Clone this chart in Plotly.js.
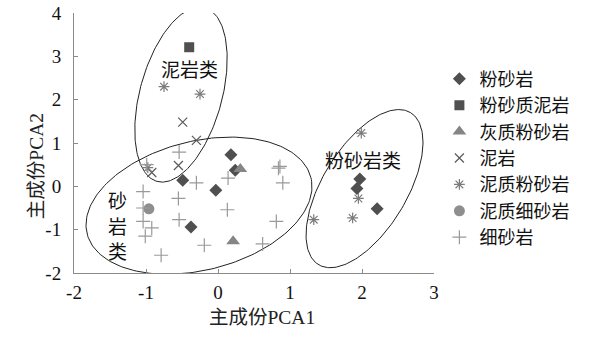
<!DOCTYPE html>
<html>
<head>
<meta charset="utf-8">
<script src="https://cdn.plot.ly/plotly-3.0.1.min.js"></script>
<style>html,body{margin:0;padding:0;background:#fff;}#chart{width:594px;height:338px;}</style>
</head>
<body>
<div id="chart"></div>
<script>
// ---- data ----
const seriesNames = ["粉砂岩", "粉砂质泥岩", "灰质粉砂岩", "泥岩", "泥质粉砂岩", "泥质细砂岩", "细砂岩"];

const siltstoneX = [0.18, 0.24, -0.49, -0.03, -0.375, 1.97, 1.93, 2.21];
const siltstoneY = [0.73, 0.37, 0.14, -0.09, -0.94, 0.17, -0.05, -0.52];

const siltyMudstoneX = [-0.40];
const siltyMudstoneY = [3.21];

const calcSiltstoneX = [0.31, 0.21];
const calcSiltstoneY = [0.40, -1.27];

const mudstoneX = [-0.49, -0.30, -0.55, -0.92];
const mudstoneY = [1.48, 1.06, 0.48, 0.32];

const argSiltstoneX = [-0.75, -0.25, 1.99, 1.95, 1.87, 1.33, -0.975];
const argSiltstoneY = [2.30, 2.13, 1.23, -0.28, -0.73, -0.77, 0.43];

const argFineSandX = [-0.96];
const argFineSandY = [-0.52];

const fineSandX = [-0.54, -0.99, -1.04, -0.30, -0.55, 0.14, -1.04, 0.13, -0.54, -1.04, -0.92, -1.01, -0.19, -0.79, 0.62, 0.81, 0.84, 0.86, 0.90];
const fineSandY = [0.79, 0.50, -0.12, 0.08, -0.28, 0.19, -0.50, -0.54, -0.77, -0.81, -0.96, -1.15, -1.36, -1.59, -1.33, -0.81, 0.42, 0.46, 0.08];

const xTicks = [-2, -1, 0, 1, 2, 3];
const xTickText = ["-2", "-1", "0", "1", "2", "3"];
const yTicks = [-2, -1, 0, 1, 2, 3, 4];
const yTickText = ["-2", "-1", "0", "1", "2", "3", "4"];

// group labels (the vertical one is written one character per line)
const groupLabels = ["泥岩类", "砂", "岩", "类", "粉砂岩类"];
const groupLabelX = [-0.40, -1.40, -1.40, -1.40, 2.01];
const groupLabelY = [2.72, -0.31, -0.91, -1.47, 0.62];

// group ellipses: centre and two conjugate half-axis vectors (data units)
const ellipseCX = [-0.514, -0.264, 2.035];
const ellipseCY = [2.118, -0.446, -0.053];
const ellipseUX = [0.332, 1.554, 0.640];
const ellipseUY = [2.004, 0.649, 1.753];
const ellipseVX = [-0.549, -0.218, -0.500];
const ellipseVY = [0.252, 1.443, 0.506];

// ---- traces ----
const styles = [
  {symbol: "diamond", color: "#4f4f4f", size: 10, lw: 0},
  {symbol: "square", color: "#505050", size: 10, lw: 0},
  {symbol: "triangle-up", color: "#858585", size: 12, lw: 0},
  {symbol: "x-thin-open", color: "#5a5a5a", size: 9, lw: 1.2},
  {symbol: "asterisk-open", color: "#7c7c7c", size: 9, lw: 1.2},
  {symbol: "circle", color: "#8e8e8e", size: 11, lw: 0},
  {symbol: "cross-thin-open", color: "#9a9a9a", size: 10, lw: 1.2}
];
const xs = [siltstoneX, siltyMudstoneX, calcSiltstoneX, mudstoneX, argSiltstoneX, argFineSandX, fineSandX];
const ys = [siltstoneY, siltyMudstoneY, calcSiltstoneY, mudstoneY, argSiltstoneY, argFineSandY, fineSandY];

const traces = [];
for (let e = 0; e < ellipseCX.length; e++) {
  const ex = [], ey = [];
  for (let i = 0; i <= 200; i++) {
    const t = 2 * Math.PI * i / 200;
    ex.push(ellipseCX[e] + ellipseUX[e] * Math.cos(t) + ellipseVX[e] * Math.sin(t));
    ey.push(ellipseCY[e] + ellipseUY[e] * Math.cos(t) + ellipseVY[e] * Math.sin(t));
  }
  traces.push({x: ex, y: ey, type: "scatter", mode: "lines", line: {color: "#222", width: 1}, hoverinfo: "skip", showlegend: false});
}
for (let s = 0; s < seriesNames.length; s++) {
  const st = styles[s];
  traces.push({
    x: xs[s], y: ys[s], name: seriesNames[s], type: "scatter", mode: "markers",
    marker: {symbol: st.symbol, color: st.color, size: st.size, line: {color: st.color, width: st.lw}}
  });
}

const annotations = [];
for (let g = 0; g < groupLabels.length; g++) {
  annotations.push({x: groupLabelX[g], y: groupLabelY[g], xref: "x", yref: "y", text: groupLabels[g], showarrow: false,
    font: {size: 19, color: "#111", family: "Noto Sans CJK SC"}, borderpad: 0});
}
annotations.push({x: 0.522, y: -0.215, xref: "paper", yref: "paper", text: "主成份PCA1", showarrow: false,
  font: {size: 19.5, color: "#222"}, borderpad: 0});
annotations.push({x: -0.136, y: 0.409, xref: "paper", yref: "paper", text: "主成份PCA2", showarrow: false, textangle: -90,
  font: {size: 19.5, color: "#222"}, borderpad: 0});

const axisCommon = {
  showgrid: false, zeroline: false, showline: true, linecolor: "#8a8a8a", linewidth: 1,
  ticks: "inside", ticklen: 4, tickcolor: "#8a8a8a", tickfont: {size: 19, color: "#111"}, fixedrange: true
};

const layout = {
  width: 594, height: 338,
  margin: {l: 74, r: 160, t: 13, b: 65},
  paper_bgcolor: "#fff", plot_bgcolor: "#fff",
  font: {family: "Liberation Serif, Noto Sans CJK SC, serif", color: "#111"},
  xaxis: Object.assign({}, axisCommon, {range: [-2, 3], tickvals: xTicks, ticktext: xTickText, ticklabelstandoff: 2}),
  yaxis: Object.assign({}, axisCommon, {range: [-2, 4], tickvals: yTicks, ticktext: yTickText, ticklabelstandoff: 8}),
  showlegend: true,
  legend: {x: 1.015, y: 0.817, xanchor: "left", yanchor: "top", font: {size: 18, family: "Noto Sans CJK SC", color: "#111"},
    bgcolor: "rgba(0,0,0,0)", itemwidth: 30},
  annotations: annotations
};

Plotly.newPlot("chart", traces, layout, {displayModeBar: false, staticPlot: true});
</script>
</body>
</html>
